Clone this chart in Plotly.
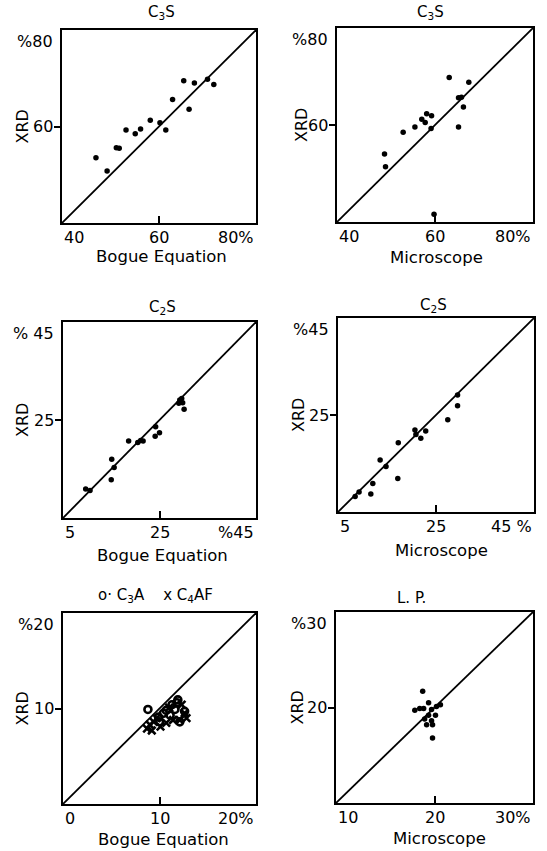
import plotly.graph_objects as go

W, H = 547, 851

# ---------------- data ----------------
# Panel 1: C3S, Bogue vs XRD
c3s_bogue_x = [47.0, 49.3, 51.2, 51.8, 53.2, 55.1, 56.2, 58.2, 60.2, 61.4, 62.8, 66.2, 65.1, 67.3, 70.0, 71.3]
c3s_bogue_y = [53.5, 50.8, 55.6, 55.5, 59.3, 58.5, 59.5, 61.3, 60.8, 59.3, 65.6, 63.6, 69.5, 69.0, 69.8, 68.7]
# Panel 2: C3S, Microscope vs XRD
c3s_micro_x = [62.9, 66.9, 64.8, 65.4, 65.8, 64.8, 58.3, 59.3, 57.3, 58.0, 59.2, 55.9, 53.5, 49.7, 49.9, 59.8]
c3s_micro_y = [69.8, 68.8, 65.6, 65.7, 63.7, 59.6, 62.3, 61.9, 61.2, 60.5, 59.3, 59.6, 58.5, 54.0, 51.4, 41.6]
# Panel 3: C2S, Bogue vs XRD
c2s_bogue_x = [9.7, 10.6, 15.0, 15.6, 15.1, 18.6, 20.5, 21.1, 21.6, 24.2, 24.1, 25.0, 29.2, 29.8, 29.0, 30.1, 29.6]
c2s_bogue_y = [10.9, 10.6, 12.8, 15.3, 17.0, 20.7, 20.4, 20.8, 20.7, 23.6, 21.7, 22.4, 29.1, 28.5, 28.4, 27.2, 29.4]
# Panel 4: C2S, Microscope vs XRD
c2s_micro_x = [8.5, 9.3, 11.7, 12.1, 17.2, 13.6, 14.8, 17.3, 20.7, 20.9, 21.9, 22.9, 27.4, 29.4, 29.4]
c2s_micro_y = [8.2, 9.1, 8.7, 10.9, 11.9, 15.7, 14.4, 19.3, 21.9, 21.0, 20.2, 21.7, 24.0, 26.9, 29.1]
# Panel 5: C3A (o) and C4AF (x), Bogue vs XRD
c3a_x = [8.8, 9.9, 10.4, 10.7, 11.1, 11.3, 11.9, 12.1, 12.6, 11.8, 10.0, 11.6]
c3a_y = [9.9, 9.1, 9.5, 9.8, 9.3, 10.4, 10.9, 8.6, 9.7, 10.6, 8.6, 9.9]
c4af_x = [8.7, 9.0, 9.2, 9.4, 10.1, 10.7, 11.4, 12.3, 12.8, 12.1, 9.7, 11.0, 12.6]
c4af_y = [7.9, 8.3, 7.7, 8.6, 8.1, 8.5, 8.8, 10.4, 9.0, 8.8, 9.0, 10.1, 9.5]
# Panel 6: L.P., Microscope vs XRD
lp_x = [18.8, 19.4, 18.0, 18.5, 18.9, 19.7, 20.6, 20.2, 19.4, 20.1, 19.0, 19.7, 19.2, 19.8, 19.8]
lp_y = [21.7, 20.5, 19.7, 19.9, 19.9, 19.8, 20.3, 20.1, 19.2, 19.2, 18.8, 18.6, 18.2, 18.2, 16.8]

# axis ranges and tick labels
ranges = [(40, 80), (40, 80), (5, 45), (5, 45), (0, 20), (10, 30)]
mids = [60, 60, 25, 25, 10, 20]
x_ticklabels = [["40", "60", "80%"], ["40", "60", "80%"], ["5", "25", "%45"],
                ["5", "25", "45 %"], ["0", "10", "20%"], ["10", "20", "30%"]]
y_ticklabels = [["60", "%80"], ["60", "%80"], ["25", "% 45"],
                ["25", "%45"], ["10", "%20"], ["20", "%30"]]
titles = ["C<sub>3</sub>S", "C<sub>3</sub>S", "C<sub>2</sub>S", "C<sub>2</sub>S",
          "o· C<sub>3</sub>A    x C<sub>4</sub>AF", "L. P."]
x_titles = ["Bogue Equation", "Microscope", "Bogue Equation", "Microscope",
            "Bogue Equation", "Microscope"]
y_title = "XRD"

# ---------------- layout geometry (pixels) ----------------
boxes = [(62, 256, 30, 223), (337, 533, 28, 222),
         (63, 256, 322, 518), (338, 534, 318, 512),
         (63, 256, 613, 804), (336, 533, 612, 803)]
title_pos = [(161, 13), (430, 13), (162, 307), (433, 305), (156, 595), (411, 598)]
xtitle_pos = [(161, 256), (436, 257), (162, 555), (441, 550), (163, 839), (439, 838)]
ytitle_x = [22, 302, 22, 298, 22, 297]

FONT = "DejaVu Sans"
fig = go.Figure()

def px(x):
    return x / W

def py(y):
    return 1 - y / H

series = [
    [(c3s_bogue_x, c3s_bogue_y, "circle")],
    [(c3s_micro_x, c3s_micro_y, "circle")],
    [(c2s_bogue_x, c2s_bogue_y, "circle")],
    [(c2s_micro_x, c2s_micro_y, "circle")],
    [(c3a_x, c3a_y, "circle-open"), (c4af_x, c4af_y, "x-thin")],
    [(lp_x, lp_y, "circle")],
]

annotations = []
for i in range(6):
    n = "" if i == 0 else str(i + 1)
    xa, ya = "x" + n, "y" + n
    lo, hi = ranges[i]
    l, r, t, b = boxes[i]
    # diagonal 1:1 line
    fig.add_trace(go.Scatter(x=[lo, hi], y=[lo, hi], mode="lines",
                             line=dict(color="black", width=1.8),
                             xaxis=xa, yaxis=ya, showlegend=False,
                             cliponaxis=False, hoverinfo="skip"))
    for sx, sy, sym in series[i]:
        if sym == "circle":
            mk = dict(symbol=sym, size=5.5, color="black")
        elif sym == "circle-open":
            mk = dict(symbol=sym, size=7, color="black", line=dict(width=2.6, color="black"))
        else:
            mk = dict(symbol=sym, size=7.5, color="black", line=dict(width=2.6, color="black"))
        fig.add_trace(go.Scatter(x=sx, y=sy, mode="markers", marker=mk,
                                 xaxis=xa, yaxis=ya, showlegend=False,
                                 cliponaxis=False))
    common = dict(range=[lo, hi], showline=True, mirror=True, linecolor="black",
                  linewidth=2, showgrid=False, zeroline=False, ticks="",
                  showticklabels=False, fixedrange=True)
    fig.layout["xaxis" + n] = dict(common, domain=[px(l), px(r)], anchor=ya,
                                   minor=dict(tickvals=[mids[i]], ticks="inside",
                                              ticklen=7, tickwidth=2, tickcolor="black",
                                              showgrid=False))
    fig.layout["yaxis" + n] = dict(common, domain=[py(b), py(t)], anchor=xa,
                                   minor=dict(tickvals=[mids[i]], ticks="outside",
                                              ticklen=6, tickwidth=2, tickcolor="black",
                                              showgrid=False))
    # x tick labels
    xvals = [lo, mids[i], hi]
    anchors = ["left", "center", "right"]
    for v, txt, anc in zip(xvals, x_ticklabels[i], anchors):
        annotations.append(dict(x=v, y=0, xref=xa, yref=ya + " domain", text=txt,
                                showarrow=False, xanchor=anc, yanchor="top", yshift=-3,
                                font=dict(family=FONT, size=16, color="black")))
    # y tick labels
    yvals = [mids[i], hi]
    yanchors = ["middle", "top"]
    for v, txt, anc in zip(yvals, y_ticklabels[i], yanchors):
        annotations.append(dict(x=0, y=v, xref=xa + " domain", yref=ya, text=txt,
                                showarrow=False, xanchor="right", yanchor=anc, xshift=-7,
                                font=dict(family=FONT, size=16, color="black")))
    # panel title
    tx, ty = title_pos[i]
    annotations.append(dict(x=px(tx), y=py(ty), xref="paper", yref="paper", text=titles[i],
                            showarrow=False, xanchor="center", yanchor="middle",
                            font=dict(family=FONT, size=15, color="black")))
    # x title
    xx, xy = xtitle_pos[i]
    annotations.append(dict(x=px(xx), y=py(xy), xref="paper", yref="paper", text=x_titles[i],
                            showarrow=False, xanchor="center", yanchor="middle",
                            font=dict(family=FONT, size=16.5, color="black")))
    # y title
    annotations.append(dict(x=px(ytitle_x[i]), y=py((t + b) / 2), xref="paper", yref="paper",
                            text=y_title, textangle=-90, showarrow=False,
                            xanchor="center", yanchor="middle",
                            font=dict(family=FONT, size=16, color="black")))

fig.update_layout(width=W, height=H, margin=dict(l=0, r=0, t=0, b=0),
                  paper_bgcolor="white", plot_bgcolor="white",
                  annotations=annotations, showlegend=False)

fig.write_html("out.html", config={"displayModeBar": False},
               post_script="document.body.style.margin='0';document.body.style.overflow='hidden';")
